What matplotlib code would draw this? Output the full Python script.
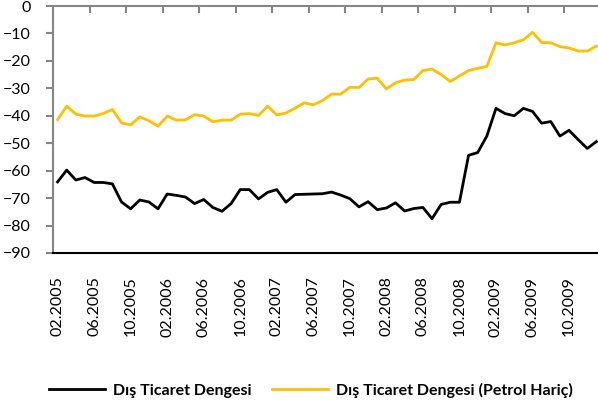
import matplotlib.pyplot as plt
import numpy as np

plt.rcParams['font.family'] = ['Lato', 'DejaVu Sans']

# monthly, 02.2005 .. 01.2010
months = []
for y in range(2005, 2011):
    for m in range(1, 13):
        if (y == 2005 and m < 2) or (y == 2010 and m > 1):
            continue
        months.append("%02d.%d" % (m, y))

dis_ticaret = [-64.1, -59.8, -63.4, -62.5, -64.3, -64.3, -64.8, -71.4, -73.9, -70.7,
               -71.4, -73.9, -68.5, -69.0, -69.6, -72.0, -70.5, -73.4, -74.8, -72.0,
               -66.9, -66.9, -70.3, -67.9, -66.9, -71.5, -68.7, -68.6, -68.5, -68.4,
               -67.8, -68.9, -70.2, -73.2, -71.3, -74.2, -73.6, -71.7, -74.7, -73.8,
               -73.4, -77.5, -72.3, -71.5, -71.5, -54.4, -53.4, -47.4, -37.3, -39.2,
               -40.0, -37.3, -38.4, -42.7, -42.1, -47.4, -45.3, -48.7, -51.9, -49.4]

petrol_haric = [-41.4, -36.5, -39.4, -40.1, -40.1, -39.2, -37.7, -42.6, -43.3, -40.4,
                -41.8, -43.8, -40.1, -41.6, -41.5, -39.6, -40.1, -42.2, -41.6, -41.6,
                -39.4, -39.2, -39.9, -36.5, -39.7, -39.0, -37.2, -35.3, -36.0, -34.5,
                -32.1, -32.1, -29.6, -29.7, -26.6, -26.3, -30.2, -28.0, -27.0, -26.8,
                -23.5, -23.0, -25.0, -27.5, -25.5, -23.5, -22.7, -22.0, -13.4, -14.2,
                -13.4, -12.3, -9.6, -13.3, -13.4, -14.8, -15.3, -16.4, -16.4, -14.6]

x = np.arange(len(months))

fig = plt.figure(figsize=(5.98, 4.07), dpi=100)
ax = fig.add_axes([53/598, 1-253/407, 548/598, 247/407])

gray = '#868686'
ax.plot(x, dis_ticaret, color='black', lw=2, label='Dış Ticaret Dengesi')
ax.plot(x, petrol_haric, color='#FFC000', lw=2, label='Dış Ticaret Dengesi (Petrol Hariç)')

ax.set_xlim(-0.5, len(months) - 0.5)
ax.set_ylim(-90, 0)
ax.set_yticks(np.arange(-90, 1, 10))

ax.spines['right'].set_visible(False)
ax.spines['left'].set_color(gray)
ax.spines['left'].set_linewidth(1.5)
ax.spines['top'].set_color(gray)
ax.spines['top'].set_linewidth(1.5)
ax.spines['bottom'].set_color('black')
ax.spines['bottom'].set_linewidth(1.5)

ax.set_xticks(x[::4])
ax.set_xticklabels(months[::4], rotation=90, fontsize=11.5)
ax.set_xticks(np.arange(3.5, len(months), 4), minor=True)
ax.tick_params(axis='x', which='major', length=0, pad=17)
ax.tick_params(axis='x', which='minor', top=True, bottom=False, direction='in',
               length=5, width=1.5, color=gray)
ax.tick_params(axis='y', length=5, width=1.5, color=gray, labelsize=11.5, pad=11)

fig.legend(loc='center', bbox_to_anchor=(0.52, 1-390/407), ncol=2, frameon=False,
           prop={'weight': 'bold', 'size': 11.5}, handlelength=3.5, columnspacing=1.3,
           handletextpad=0.5)

fig.savefig('out.png', dpi=100)
